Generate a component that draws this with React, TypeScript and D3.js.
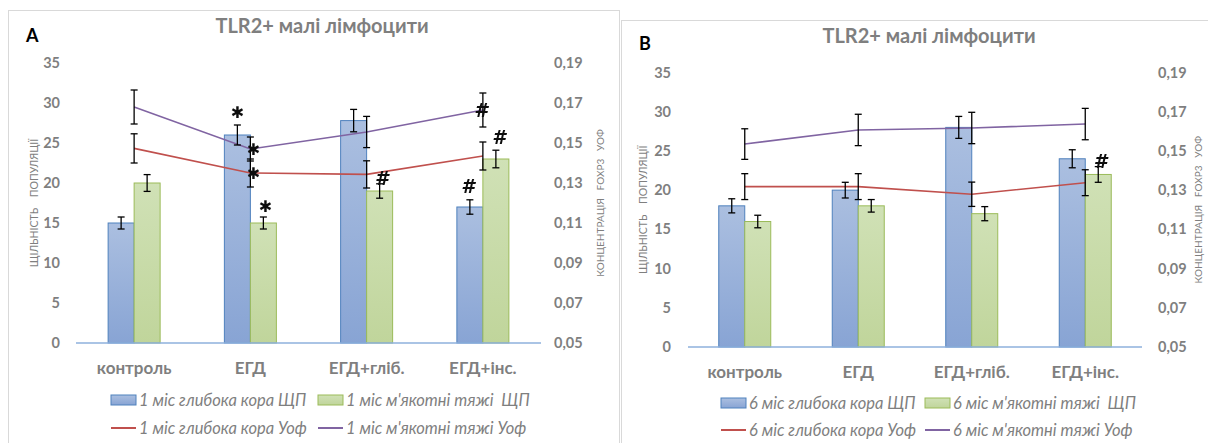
import React from "react";
import * as d3 from "d3";

// Categories and axis ticks
const categories = ["контроль", "ЕГД", "ЕГД+гліб.", "ЕГД+інс."];
const densityTicks = [0, 5, 10, 15, 20, 25, 30, 35];
const concTicks = [0.05, 0.07, 0.09, 0.11, 0.13, 0.15, 0.17, 0.19];

// Panel A — 1 month
const aCortexDensity = [15, 26, 27.8, 17];
const aCortexDensityErr = [0.75, 1.25, 1.4, 0.9];
const aCordsDensity = [20, 15, 19, 23];
const aCordsDensityErr = [1.05, 0.75, 0.9, 1.1];
const aCortexConc = [0.1473, 0.135, 0.1343, 0.1435];
const aCortexConcErr = [0.0073, 0.007, 0.0068, 0.007];
const aCordsConc = [0.168, 0.147, 0.1555, 0.1665];
const aCordsConcErr = [0.0085, 0.006, 0.0078, 0.0085];

// Panel B — 6 months
const bCortexDensity = [18, 20, 28, 24];
const bCortexDensityErr = [0.9, 1, 1.4, 1.15];
const bCordsDensity = [16, 18, 17, 22];
const bCordsDensityErr = [0.8, 0.8, 0.9, 1];
const bCortexConc = [0.1318, 0.1318, 0.1279, 0.1338];
const bCortexConcErr = [0.0066, 0.0066, 0.0062, 0.0066];
const bCordsConc = [0.1535, 0.1607, 0.1617, 0.1637];
const bCordsConcErr = [0.0078, 0.008, 0.008, 0.008];

// Significance marks: series, category index, symbol
type Mark = { series: "cortexBar" | "cordsBar" | "cortexLine" | "cordsLine"; cat: number; sym: string; dx: number; dy: number };
const aMarks: Mark[] = [
  { series: "cortexBar", cat: 1, sym: "*", dx: 0, dy: -13 },
  { series: "cordsBar", cat: 1, sym: "*", dx: 2, dy: -11 },
  { series: "cordsLine", cat: 1, sym: "*", dx: 3, dy: 0 },
  { series: "cortexLine", cat: 1, sym: "*", dx: 3, dy: 0 },
  { series: "cordsBar", cat: 2, sym: "#", dx: 2, dy: -6 },
  { series: "cortexBar", cat: 3, sym: "#", dx: -2, dy: -14 },
  { series: "cordsLine", cat: 3, sym: "#", dx: -2, dy: 0 },
  { series: "cordsBar", cat: 3, sym: "#", dx: 3, dy: -13 },
];
const bMarks: Mark[] = [{ series: "cordsBar", cat: 3, sym: "#", dx: 2, dy: -6 }];

const GREY = "#7f7f7f";
const FONT = "Lato, 'Open Sans', sans-serif";
const BLUE_STROKE = "#4f81bd";
const GREEN_STROKE = "#9bbb59";
const RED = "#c0504d";
const PURPLE = "#8064a2";

type PanelProps = {
  id: string;
  letter: string;
  month: string;
  frame: { x: number; y: number; w: number; h: number };
  xRange: [number, number];
  yRange: [number, number];
  leftTickX: number;
  rightTickX: number;
  titleX: number;
  titleY: number;
  letterX: number;
  letterY: number;
  leftLabelX: number;
  rightLabelX: number;
  catY: number;
  legendY: [number, number];
  legendX: [number, number];
  cortexDensity: number[];
  cortexDensityErr: number[];
  cordsDensity: number[];
  cordsDensityErr: number[];
  cortexConc: number[];
  cortexConcErr: number[];
  cordsConc: number[];
  cordsConcErr: number[];
  marks: Mark[];
};

const BAR_W = 26;

function ErrorBar({ x, y1, y2 }: { x: number; y1: number; y2: number }) {
  const c = 3.5;
  return (
    <g stroke="#000" strokeWidth={1.3}>
      <line x1={x} x2={x} y1={y1} y2={y2} />
      <line x1={x - c} x2={x + c} y1={y1} y2={y1} />
      <line x1={x - c} x2={x + c} y1={y2} y2={y2} />
    </g>
  );
}

function Panel(p: PanelProps) {
  const x = d3.scaleBand<string>().domain(categories).range(p.xRange).padding(0);
  const sub = d3.scaleBand<string>().domain(["cortex", "cords"]).range([-BAR_W, BAR_W]);
  const y = d3.scaleLinear().domain([0, 35]).range(p.yRange);
  const y2 = d3.scaleLinear().domain([0.05, 0.19]).range(p.yRange);
  const cx = (i: number) => (x(categories[i]) as number) + x.bandwidth() / 2;
  const line = d3
    .line<number>()
    .x((_, i) => cx(i))
    .y((v) => y2(v));
  const fmt = (v: number) => d3.format(".2f")(v).replace(".", ",");
  const midY = (p.yRange[0] + p.yRange[1]) / 2;

  const markPos = (m: Mark) => {
    const i = m.cat;
    if (m.series === "cortexBar")
      return [cx(i) + (sub("cortex") as number) + BAR_W / 2, y(p.cortexDensity[i] + p.cortexDensityErr[i])];
    if (m.series === "cordsBar")
      return [cx(i) + (sub("cords") as number) + BAR_W / 2, y(p.cordsDensity[i] + p.cordsDensityErr[i])];
    if (m.series === "cortexLine") return [cx(i), y2(p.cortexConc[i])];
    return [cx(i), y2(p.cordsConc[i])];
  };

  const bars = [
    { key: "cortex", vals: p.cortexDensity, errs: p.cortexDensityErr, fill: `url(#${p.id}-blue)`, stroke: BLUE_STROKE },
    { key: "cords", vals: p.cordsDensity, errs: p.cordsDensityErr, fill: `url(#${p.id}-green)`, stroke: GREEN_STROKE },
  ];
  const lines = [
    { vals: p.cortexConc, errs: p.cortexConcErr, color: RED },
    { vals: p.cordsConc, errs: p.cordsConcErr, color: PURPLE },
  ];

  return (
    <g>
      <defs>
        <linearGradient id={`${p.id}-blue`} x1="0" x2="0" y1="0" y2="1">
          <stop offset="0" stopColor="#abbfe0" />
          <stop offset="1" stopColor="#88a4d4" />
        </linearGradient>
        <linearGradient id={`${p.id}-green`} x1="0" x2="0" y1="0" y2="1">
          <stop offset="0" stopColor="#d0e1b6" />
          <stop offset="1" stopColor="#c0d59b" />
        </linearGradient>
        <filter id={`${p.id}-soft`} x="-50%" y="-50%" width="200%" height="200%">
          <feGaussianBlur stdDeviation="0.45" />
        </filter>
      </defs>
      <rect x={p.frame.x} y={p.frame.y} width={p.frame.w} height={p.frame.h} fill="#fff" stroke="#d9d9d9" strokeWidth={1} />

      <text x={p.titleX} y={p.titleY} textAnchor="middle" fontFamily={FONT} fontWeight={700} fontSize={20} fill={GREY}>
        TLR2+ малі лімфоцити
      </text>
      <text x={p.letterX} y={p.letterY} fontFamily={FONT} fontWeight={700} fontSize={18} fill="#000">
        {p.letter}
      </text>

      {/* left axis tick labels */}
      {densityTicks.map((t) => (
        <text key={t} x={p.leftTickX} y={y(t)} dy="0.35em" textAnchor="end" fontFamily={FONT} fontWeight={700} fontSize={14.5} fill={GREY}>
          {t}
        </text>
      ))}
      {/* right axis tick labels */}
      {concTicks.map((t) => (
        <text key={t} x={p.rightTickX} y={y2(t)} dy="0.35em" textAnchor="start" fontFamily={FONT} fontWeight={700} fontSize={14.5} fill={GREY}>
          {fmt(t)}
        </text>
      ))}

      {/* axis titles */}
      <text
        transform={`translate(${p.leftLabelX},${midY}) rotate(-90)`}
        textAnchor="middle"
        dy="0.35em"
        fontFamily={FONT}
        fontSize={10.5}
        fill={GREY}
        style={{ whiteSpace: "pre" }}
      >
        {"ЩІЛЬНІСТЬ    ПОПУЛЯЦІЇ"}
      </text>
      <text
        transform={`translate(${p.rightLabelX},${midY}) rotate(-90)`}
        textAnchor="middle"
        dy="0.35em"
        fontFamily={FONT}
        fontSize={10}
        fill={GREY}
        style={{ whiteSpace: "pre" }}
      >
        {"КОНЦЕНТРАЦІЯ   FOXP3   УОФ"}
      </text>

      {/* bars */}
      {bars.map((s) =>
        s.vals.map((v, i) => (
          <rect
            key={s.key + i}
            x={cx(i) + (sub(s.key) as number)}
            y={y(v)}
            width={BAR_W}
            height={y(0) - y(v)}
            fill={s.fill}
            stroke={s.stroke}
            strokeWidth={1}
          />
        ))
      )}

      {/* baseline */}
      <line x1={p.xRange[0]} x2={p.xRange[1]} y1={y(0)} y2={y(0)} stroke="#8eb1dc" strokeWidth={1.5} />

      {/* concentration lines */}
      {lines.map((l, k) => (
        <path key={k} d={line(l.vals) as string} fill="none" stroke={l.color} strokeWidth={1.6} />
      ))}

      {/* error bars */}
      {bars.map((s) =>
        s.vals.map((v, i) => {
          const bx = cx(i) + (sub(s.key) as number) + BAR_W / 2;
          return <ErrorBar key={"e" + s.key + i} x={bx} y1={y(v + s.errs[i])} y2={y(v - s.errs[i])} />;
        })
      )}
      {lines.map((l, k) =>
        l.vals.map((v, i) => <ErrorBar key={"l" + k + i} x={cx(i)} y1={y2(v + l.errs[i])} y2={y2(v - l.errs[i])} />)
      )}

      {/* significance marks */}
      <g filter={`url(#${p.id}-soft)`}>
        {p.marks.map((m, k) => {
          const [mx, my] = markPos(m);
          return m.sym === "*" ? (
            <text key={k} x={mx + m.dx} y={my + m.dy} textAnchor="middle" dominantBaseline="central" fontFamily="'DejaVu Sans'" fontSize={16} fill="#111">
              ✱
            </text>
          ) : (
            <text
              key={k}
              x={mx + m.dx}
              y={my + m.dy}
              textAnchor="middle"
              dominantBaseline="central"
              fontFamily="'DejaVu Sans'"
              fontStyle="italic"
              fontWeight={700}
              fontSize={19}
              fill="#111"
            >
              #
            </text>
          );
        })}
      </g>

      {/* category labels */}
      {categories.map((c, i) => (
        <text key={c} x={cx(i)} y={p.catY} textAnchor="middle" fontFamily={FONT} fontWeight={700} fontSize={17} fill={GREY}>
          {c}
        </text>
      ))}

      {/* legend */}
      <g fontFamily={FONT} fontStyle="italic" fontSize={16.5} fill={GREY}>
        <rect x={p.legendX[0]} y={p.legendY[0] - 5} width={25} height={10} fill={`url(#${p.id}-blue)`} stroke={BLUE_STROKE} />
        <text x={p.legendX[0] + 28} y={p.legendY[0]} dy="0.35em">{`${p.month} міс глибока кора ЩП`}</text>
        <rect x={p.legendX[1]} y={p.legendY[0] - 5} width={25} height={10} fill={`url(#${p.id}-green)`} stroke={GREEN_STROKE} />
        <text x={p.legendX[1] + 28} y={p.legendY[0]} dy="0.35em" style={{ whiteSpace: "pre" }}>{`${p.month} міс м'якотні тяжі  ЩП`}</text>
        <line x1={p.legendX[0]} x2={p.legendX[0] + 25} y1={p.legendY[1]} y2={p.legendY[1]} stroke={RED} strokeWidth={2} />
        <text x={p.legendX[0] + 28} y={p.legendY[1]} dy="0.35em">{`${p.month} міс глибока кора Уоф`}</text>
        <line x1={p.legendX[1]} x2={p.legendX[1] + 25} y1={p.legendY[1]} y2={p.legendY[1]} stroke={PURPLE} strokeWidth={2} />
        <text x={p.legendX[1] + 28} y={p.legendY[1]} dy="0.35em">{`${p.month} міс м'якотні тяжі Уоф`}</text>
      </g>
    </g>
  );
}

export default function App() {
  return (
    <svg width={1208} height={443} style={{ position: "absolute", left: 0, top: 0, background: "#fff" }}>
      <rect width={1208} height={443} fill="#fff" />
      <Panel
        id="pa"
        letter="A"
        month="1"
        frame={{ x: 8.5, y: 10.5, w: 611, h: 500 }}
        xRange={[76, 541]}
        yRange={[343, 63]}
        leftTickX={60}
        rightTickX={554}
        titleX={322}
        titleY={33}
        letterX={26}
        letterY={42}
        leftLabelX={34}
        rightLabelX={600}
        catY={374}
        legendY={[400, 428]}
        legendX={[111, 318]}
        cortexDensity={aCortexDensity}
        cortexDensityErr={aCortexDensityErr}
        cordsDensity={aCordsDensity}
        cordsDensityErr={aCordsDensityErr}
        cortexConc={aCortexConc}
        cortexConcErr={aCortexConcErr}
        cordsConc={aCordsConc}
        cordsConcErr={aCordsConcErr}
        marks={aMarks}
      />
      <Panel
        id="pb"
        letter="B"
        month="6"
        frame={{ x: 621.5, y: 20.5, w: 600, h: 500 }}
        xRange={[688, 1142]}
        yRange={[347, 72.5]}
        leftTickX={671}
        rightTickX={1158}
        titleX={929}
        titleY={43}
        letterX={639}
        letterY={50}
        leftLabelX={643}
        rightLabelX={1198}
        catY={378}
        legendY={[403, 430]}
        legendX={[721, 925]}
        cortexDensity={bCortexDensity}
        cortexDensityErr={bCortexDensityErr}
        cordsDensity={bCordsDensity}
        cordsDensityErr={bCordsDensityErr}
        cortexConc={bCortexConc}
        cortexConcErr={bCortexConcErr}
        cordsConc={bCordsConc}
        cordsConcErr={bCordsConcErr}
        marks={bMarks}
      />
    </svg>
  );
}
